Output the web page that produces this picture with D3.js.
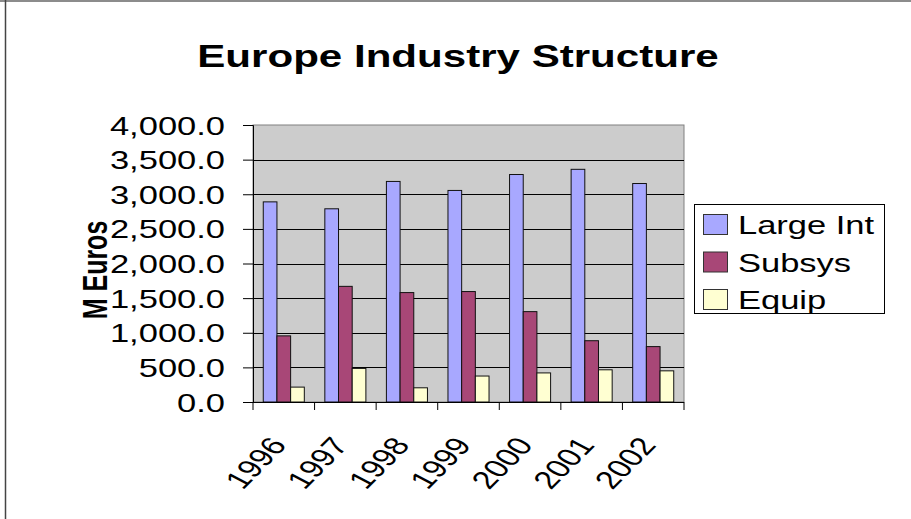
<!DOCTYPE html>
<html>
<head>
<meta charset="utf-8">
<script src="https://cdn.jsdelivr.net/npm/d3@7"></script>
<style>
  body { margin: 0; background: #fff; }
  text { font-family: "Liberation Sans", Arial, sans-serif; }
</style>
</head>
<body>
<div id="chart"></div>
<script>
var years = ["1996", "1997", "1998", "1999", "2000", "2001", "2002"];
var seriesNames = ["Large Int", "Subsys", "Equip"];
var largeInt = [2890, 2790, 3185, 3055, 3285, 3360, 3155];
var subsys = [955, 1670, 1580, 1595, 1305, 885, 800];
var equip = [215, 485, 205, 375, 420, 465, 450];
var yTicks = [0, 500, 1000, 1500, 2000, 2500, 3000, 3500, 4000];
var colors = ["#a8a8ff", "#a84777", "#ffffd2"];

// the whole picture is stretched sideways, text included
var sx = 1.38;

var W = 911, H = 519;
var plot = {left: 253, right: 684, top: 125, bottom: 402};

var svg = d3.select("#chart")
    .append("svg")
    .attr("width", W)
    .attr("height", H);

// outer frame
svg.append("line").attr("x1", 0).attr("x2", W).attr("y1", 1).attr("y2", 1)
    .attr("stroke", "#666").attr("stroke-width", 1.5);
svg.append("line").attr("x1", 5.5).attr("x2", 5.5).attr("y1", 0).attr("y2", H)
    .attr("stroke", "#444").attr("stroke-width", 1.5);

var table = years.map((yr, i) => ({year: yr, values: [largeInt[i], subsys[i], equip[i]]}));

var x = d3.scaleBand()
    .domain(years)
    .range([plot.left, plot.right]);

var inner = d3.scaleBand()
    .domain(seriesNames)
    .range([0, x.bandwidth() * 3 / 4.5]);

var y = d3.scaleLinear()
    .domain([0, 4000])
    .range([plot.bottom, plot.top]);

// plot background
svg.append("rect")
    .attr("x", plot.left).attr("y", plot.top)
    .attr("width", plot.right - plot.left).attr("height", plot.bottom - plot.top)
    .attr("fill", "#cccccc")
    .attr("stroke", "#808080");

// gridlines
svg.append("g")
    .selectAll("line")
    .data(yTicks.filter(d => d > 0 && d < 4000))
    .join("line")
    .attr("x1", plot.left).attr("x2", plot.right)
    .attr("y1", d => Math.round(y(d)) + 0.5).attr("y2", d => Math.round(y(d)) + 0.5)
    .attr("stroke", "#000");

// bars
var groupOffset = (x.bandwidth() - inner.range()[1]) / 2;
svg.append("g")
    .selectAll("g")
    .data(table)
    .join("g")
    .attr("transform", d => "translate(" + (x(d.year) + groupOffset) + ",0)")
    .selectAll("rect")
    .data(d => d.values.map((v, j) => ({name: seriesNames[j], value: v, color: colors[j]})))
    .join("rect")
    .attr("x", d => inner(d.name))
    .attr("y", d => y(d.value))
    .attr("width", inner.bandwidth())
    .attr("height", d => y(0) - y(d.value))
    .attr("fill", d => d.color)
    .attr("stroke", "#111")
    .attr("stroke-width", 1);

// y axis
var yAxis = svg.append("g")
    .attr("transform", "translate(" + plot.left + ",0)")
    .call(d3.axisLeft(y).tickValues(yTicks).tickSize(10).tickPadding(18).tickFormat(d3.format(",.1f")));
yAxis.select(".domain").attr("stroke", "#000");
yAxis.selectAll(".tick line").attr("stroke", "#000");
yAxis.selectAll("text")
    .attr("font-size", "25px")
    .attr("fill", "#000")
    .attr("dy", "0.36em")
    .attr("x", null)
    .attr("transform", "translate(-28,0) scale(" + sx + ",1)");

// x axis with ticks between categories
var xAxisG = svg.append("g");
xAxisG.append("line")
    .attr("x1", plot.left).attr("x2", plot.right)
    .attr("y1", plot.bottom + 0.5).attr("y2", plot.bottom + 0.5)
    .attr("stroke", "#000");
xAxisG.selectAll(".xtick")
    .data(years.concat(["end"]))
    .join("line")
    .attr("class", "xtick")
    .attr("x1", (d, i) => i < years.length ? x(d) : plot.right)
    .attr("x2", (d, i) => i < years.length ? x(d) : plot.right)
    .attr("y1", plot.bottom).attr("y2", plot.bottom + 8)
    .attr("stroke", "#000");
xAxisG.selectAll(".xlabel")
    .data(years)
    .join("text")
    .attr("class", "xlabel")
    .attr("text-anchor", "end")
    .attr("font-size", "25px")
    .attr("dy", "0.72em")
    .attr("transform", d => "translate(" + (x(d) + x.bandwidth() / 2 - 16) + ",435) scale(" + sx + ",1) rotate(-54)")
    .text(d => d);

// title
svg.append("text")
    .attr("text-anchor", "middle")
    .attr("font-size", "30.5px")
    .attr("font-weight", "bold")
    .attr("transform", "translate(458,67) scale(" + sx + ",1)")
    .text("Europe Industry Structure");

// y axis title
svg.append("text")
    .attr("text-anchor", "middle")
    .attr("font-size", "25px")
    .attr("font-weight", "bold")
    .attr("dy", "0.36em")
    .attr("transform", "translate(95,270) scale(" + sx + ",1) rotate(-90)")
    .text("M Euros");

// legend
var legend = svg.append("g");
legend.append("rect")
    .attr("x", 694.5).attr("y", 204.5)
    .attr("width", 190).attr("height", 109)
    .attr("fill", "#fff")
    .attr("stroke", "#000");
var rows = legend.selectAll(".row")
    .data(seriesNames)
    .join("g")
    .attr("class", "row")
    .attr("transform", (d, i) => "translate(0," + (225 + i * 37.5) + ")");
rows.append("rect")
    .attr("x", 703.5).attr("y", -10.5)
    .attr("width", 24).attr("height", 20)
    .attr("fill", (d, i) => colors[i])
    .attr("stroke", "#333");
rows.append("text")
    .attr("font-size", "25px")
    .attr("dy", "0.36em")
    .attr("transform", "translate(738,0) scale(" + sx + ",1)")
    .text(d => d);
</script>
</body>
</html>
